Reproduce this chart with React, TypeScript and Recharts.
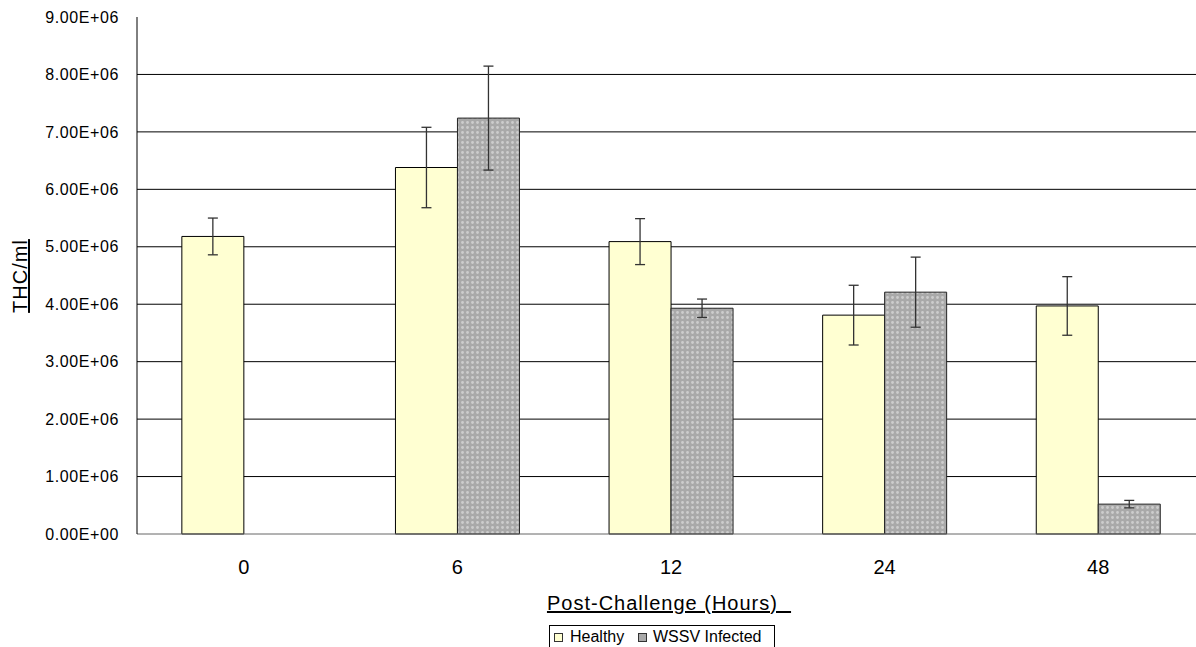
import React from 'react';
import { BarChart, Bar, XAxis, YAxis, CartesianGrid, ErrorBar } from 'recharts';

const categories = ['0', '6', '12', '24', '48'];
const healthy = [5.18e6, 6.38e6, 5.09e6, 3.81e6, 3.97e6];
const healthyErr = [0.32e6, 0.7e6, 0.4e6, 0.52e6, 0.51e6];
const wssv: (number | null)[] = [null, 7.24e6, 3.93e6, 4.21e6, 0.52e6];
const wssvErr: (number | null)[] = [null, 0.905e6, 0.16e6, 0.61e6, 0.065e6];
const yTicks = [0, 1e6, 2e6, 3e6, 4e6, 5e6, 6e6, 7e6, 8e6, 9e6];
const gridValues = [1e6, 2e6, 3e6, 4e6, 5e6, 6e6, 7e6, 8e6];

const data = categories.map((c, i) => ({
  cat: c,
  healthy: healthy[i],
  healthyErr: healthyErr[i],
  wssv: wssv[i],
  wssvErr: wssvErr[i],
}));

const FONT = 'Arial, "Liberation Sans", sans-serif';

const fmt = (v: number) => {
  if (v === 0) return '0.00E+00';
  const e = Math.floor(Math.log10(v) + 1e-9);
  const m = v / Math.pow(10, e);
  return `${m.toFixed(2)}E+${String(e).padStart(2, '0')}`;
};

const XTitle = (props: any) => {
  const vb = props.viewBox || {};
  const cx = vb.x + vb.width / 2;
  return (
    <text
      x={cx - 2}
      y={610}
      textAnchor="middle"
      fontFamily={FONT}
      fontSize={20}
      letterSpacing={1}
      fill="#000"
      style={{ textDecoration: 'underline', whiteSpace: 'pre' }}
    >
      {'Post-Challenge (Hours)\u00A0\u00A0'}
    </text>
  );
};

const YTitle = () => (
  <text
    x={27}
    y={276}
    transform="rotate(-90 27 276)"
    textAnchor="middle"
    fontFamily={FONT}
    fontSize={20}
    letterSpacing={1}
    fill="#000"
    style={{ textDecoration: 'underline' }}
  >
    THC/ml
  </text>
);

export default function App() {
  return (
    <div
      style={{
        position: 'absolute',
        left: 0,
        top: 0,
        width: 1196,
        height: 647,
        overflow: 'hidden',
        background: '#fff',
      }}
    >
      <BarChart
        width={1212}
        height={647}
        data={data}
        margin={{ top: 17, right: 7, bottom: 83, left: 0 }}
        barCategoryGap="21%"
        barGap={0}
      >
        <defs>
          <pattern id="dots" width="5" height="5" patternUnits="userSpaceOnUse">
            <rect width="5" height="5" fill="#a9a9a9" />
            <circle cx="2.5" cy="2.5" r="1.4" fill="#cdcdcd" />
          </pattern>
        </defs>
        <CartesianGrid vertical={false} stroke="#000" horizontalValues={gridValues} />
        <XAxis
          dataKey="cat"
          height={30}
          tickLine={false}
          tickSize={6}
          tickMargin={20}
          axisLine={{ stroke: '#666' }}
          tick={{ fontFamily: FONT, fontSize: 20, fill: '#000' }}
          label={<XTitle />}
        />
        <YAxis
          width={137}
          domain={[0, 9e6]}
          ticks={yTicks}
          interval={0}
          tickFormatter={fmt}
          tickLine={false}
          tickSize={6}
          tickMargin={12}
          axisLine={{ stroke: '#000' }}
          tick={{ fontFamily: FONT, fontSize: 16, fill: '#000', letterSpacing: 0.6 }}
          label={<YTitle />}
        />
        <Bar dataKey="healthy" fill="#ffffd2" stroke="#000" strokeWidth={1} isAnimationActive={false}>
          <ErrorBar dataKey="healthyErr" width={5} stroke="#333" strokeWidth={1.3} />
        </Bar>
        <Bar dataKey="wssv" fill="url(#dots)" stroke="#222" strokeWidth={1} isAnimationActive={false}>
          <ErrorBar dataKey="wssvErr" width={5} stroke="#333" strokeWidth={1.3} />
        </Bar>
      </BarChart>
      <div
        style={{
          position: 'absolute',
          left: 549,
          top: 625,
          width: 226,
          height: 30,
          border: '1px solid #000',
          background: '#fff',
          fontFamily: FONT,
          fontSize: 16,
          color: '#000',
          boxSizing: 'border-box',
        }}
      >
        <span style={{ position: 'absolute', left: 4, top: 7, width: 7, height: 7, border: '1px solid #333', background: '#ffffd2' }} />
        <span style={{ position: 'absolute', left: 20, top: 1, lineHeight: '20px' }}>Healthy</span>
        <span style={{ position: 'absolute', left: 88, top: 7, width: 7, height: 7, border: '1px solid #333', background: '#a9a9a9' }} />
        <span style={{ position: 'absolute', left: 103, top: 1, lineHeight: '20px' }}>WSSV Infected</span>
      </div>
    </div>
  );
}
